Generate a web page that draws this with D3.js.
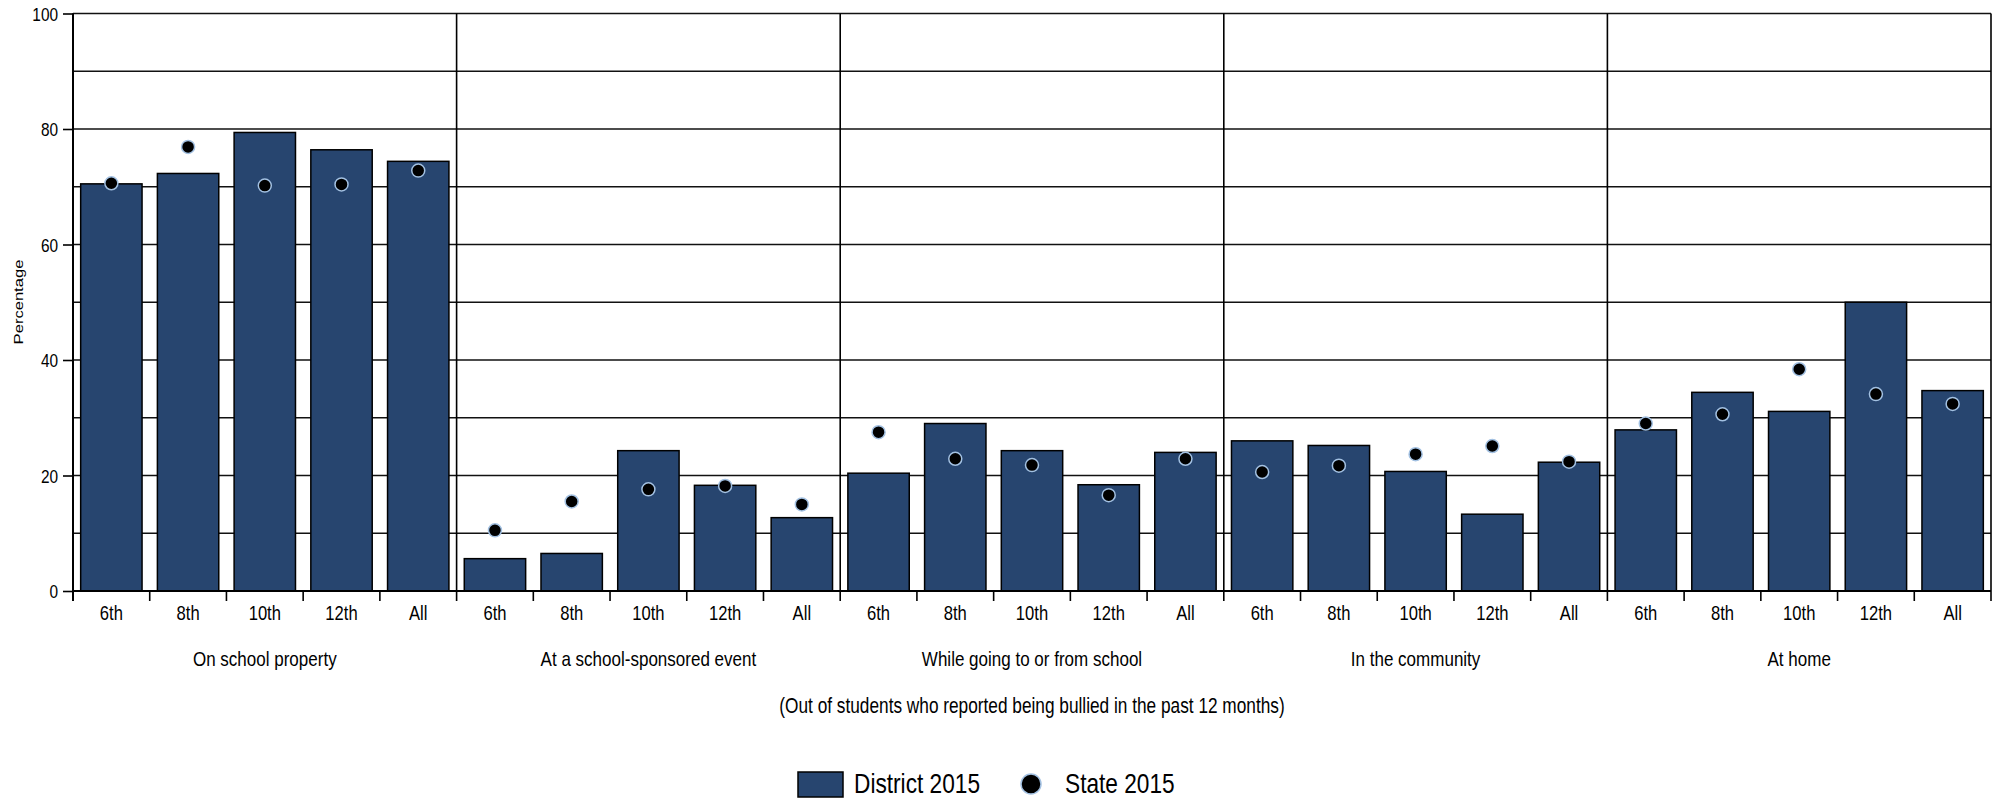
<!DOCTYPE html>
<html><head><meta charset="utf-8">
<script src="https://cdn.jsdelivr.net/npm/d3@7"></script>
<style>
body{margin:0;background:#fff;}
svg text{font-family:"Liberation Sans", Arial, sans-serif; fill:#000;}
</style></head><body>
<svg id="chart" width="1999" height="801"></svg>
<script>
const locations = ["On school property","At a school-sponsored event","While going to or from school","In the community","At home"];
const grades = ["6th","8th","10th","12th","All"];
const district2015 = [
  [70.5, 72.3, 79.4, 76.4, 74.4],
  [5.6, 6.5, 24.3, 18.3, 12.7],
  [20.4, 29.0, 24.3, 18.4, 24.0],
  [26.0, 25.2, 20.7, 13.3, 22.3],
  [27.9, 34.4, 31.1, 50.0, 34.7]
];
const state2015 = [
  [70.6, 76.9, 70.2, 70.4, 72.8],
  [10.5, 15.5, 17.6, 18.2, 15.0],
  [27.5, 22.9, 21.8, 16.6, 22.9],
  [20.6, 21.7, 23.7, 25.1, 22.4],
  [29.0, 30.6, 38.4, 34.1, 32.4]
];
const yTickValues = [0, 20, 40, 60, 80, 100];
const yLabel = "Percentage";
const subtitle = "(Out of students who reported being bullied in the past 12 months)";
const seriesNames = ["District 2015", "State 2015"];

(function () {
const BAR = "#27456f", DOT_STROKE = "#a3c1e2";
const pLeft = 73, pRight = 1991, pTop = 13.5, base = 591;
const svg = d3.select("#chart");

const rows = [];
locations.forEach((loc, i) => grades.forEach((g, j) => rows.push({loc, g, key: loc + "|" + g, d: district2015[i][j], s: state2015[i][j], gi: i, j})));

const x = d3.scaleBand().domain(rows.map(r => r.key)).range([pLeft, pRight]).paddingInner(0.2).paddingOuter(0.1);
const y = d3.scaleLinear().domain([0, 100]).range([base, pTop]);
const step = x.step();
const boundary = i => pLeft + i * step;

function condense(sel, f) {
  sel.each(function () {
    const w = this.getComputedTextLength();
    this.setAttribute("textLength", w * f);
    this.setAttribute("lengthAdjust", "spacingAndGlyphs");
  });
}

// gridlines
svg.append("g").selectAll("line").data(d3.range(10, 101, 10)).join("line")
  .attr("x1", pLeft).attr("x2", pRight).attr("y1", d => y(d)).attr("y2", d => y(d))
  .attr("stroke", "#111").attr("stroke-width", 1.6);

// boundary ticks and group separators
svg.append("g").selectAll("line").data(d3.range(0, rows.length + 1)).join("line")
  .attr("x1", i => boundary(i)).attr("x2", i => boundary(i))
  .attr("y1", i => (i % grades.length === 0) ? pTop : base).attr("y2", base + 10)
  .attr("stroke", "#000").attr("stroke-width", 1.6);

// bars
svg.append("g").selectAll("rect").data(rows).join("rect")
  .attr("x", r => x(r.key)).attr("width", x.bandwidth())
  .attr("y", r => y(r.d)).attr("height", r => base - y(r.d))
  .attr("fill", BAR).attr("stroke", "#000").attr("stroke-width", 1.5);

// baseline
svg.append("line").attr("x1", pLeft).attr("x2", pRight).attr("y1", base).attr("y2", base)
  .attr("stroke", "#000").attr("stroke-width", 2);

// dots
svg.append("g").selectAll("circle").data(rows).join("circle")
  .attr("cx", r => x(r.key) + x.bandwidth() / 2).attr("cy", r => y(r.s)).attr("r", 6.5)
  .attr("fill", "#000").attr("stroke", DOT_STROKE).attr("stroke-width", 1.5);

// y axis
const ya = svg.append("g").attr("transform", `translate(${pLeft},0)`)
  .call(d3.axisLeft(y).tickValues(yTickValues).tickSize(10).tickPadding(5).tickFormat(d3.format("d")));
ya.select(".domain").remove();
ya.selectAll(".tick line").attr("stroke", "#000").attr("stroke-width", 1.6);
ya.selectAll("text").style("font-size", "19px").attr("dy", "0.35em");
svg.append("line").attr("x1", pLeft).attr("x2", pLeft).attr("y1", pTop).attr("y2", base + 10)
  .attr("stroke", "#000").attr("stroke-width", 2);

// x axis (grade labels)
const xa = svg.append("g").attr("transform", `translate(0,${base})`)
  .call(d3.axisBottom(x).tickSize(0).tickFormat(k => k.split("|")[1]));
xa.select(".domain").remove();
xa.selectAll("text").attr("y", 29).attr("dy", 0).style("font-size", "20.5px");

// group labels
svg.append("g").selectAll("text").data(locations).join("text")
  .attr("x", (d, i) => (boundary(i * grades.length) + boundary((i + 1) * grades.length)) / 2)
  .attr("y", 666).attr("text-anchor", "middle").style("font-size", "21px").text(d => d);

// subtitle
svg.append("text").attr("x", (pLeft + pRight) / 2).attr("y", 713)
  .attr("text-anchor", "middle").style("font-size", "21.3px").text(subtitle);

// y label
svg.append("text").attr("transform", "translate(23,302) rotate(-90) scale(1,0.82)")
  .attr("text-anchor", "middle").style("font-size", "16.6px").text(yLabel);

// legend
const lg = svg.append("g");
lg.append("rect").attr("x", 798).attr("y", 772).attr("width", 45).attr("height", 25)
  .attr("fill", BAR).attr("stroke", "#000").attr("stroke-width", 1.5);
lg.append("text").attr("x", 854).attr("y", 793).style("font-size", "28px").text(seriesNames[0]);
lg.append("circle").attr("cx", 1031).attr("cy", 784).attr("r", 10)
  .attr("fill", "#000").attr("stroke", DOT_STROKE).attr("stroke-width", 1.5);
lg.append("text").attr("x", 1065).attr("y", 793).style("font-size", "28px").text(seriesNames[1]);

condense(svg.selectAll("text:not([transform])"), 0.81);
})();
</script></body></html>
